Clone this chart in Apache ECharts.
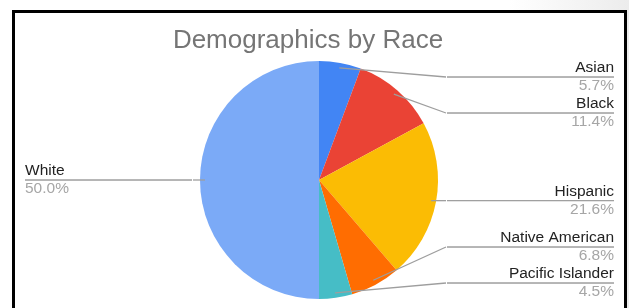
<!DOCTYPE html>
<html>
<head>
<meta charset="utf-8">
<script src="https://cdn.jsdelivr.net/npm/echarts@6/dist/echarts.min.js"></script>
<style>
  html, body { margin: 0; padding: 0; background: #fff; }
  #wrap { position: relative; width: 629px; height: 308px; overflow: hidden;
    background: linear-gradient(to left, #ececec 0px, #ffffff 120px); }
  #charts { position: absolute; left: 0; top: 0; width: 629px; height: 308px; }
  #inner { position: absolute; left: 15px; top: 13px; width: 609px; height: 300px; background: #fff; }
  #frame { position: absolute; left: 12px; top: 10px; width: 609px; height: 320px;
    border: 3px solid #000; pointer-events: none; }
</style>
</head>
<body>
<div id="wrap">
  <div id="inner"></div>
  <div id="charts"></div>
  <div id="frame"></div>
</div>
<script>
const categories = ["Asian", "Black", "Hispanic", "Native American", "Pacific Islander", "White"];
const shares = [5.7, 11.4, 21.6, 6.8, 4.5, 50.0];
const colors = ["#4285f4", "#ea4335", "#fbbc04", "#ff6d01", "#46bdc6", "#7baaf7"];
// labels are laid out in groups, so crowding at the top does not push the others
const labelGroups = [
  ["Asian", "Black"],
  ["Hispanic", "White"],
  ["Native American", "Pacific Islander"],
];

let charts = echarts.init(document.getElementById("charts"));

const pieBox = { left: 25, right: 15, top: 59, bottom: 7, center: [294, 121], startAngle: 90 };

const labelSeries = labelGroups.map((group) => ({
  type: "pie",
  ...pieBox,
  z: 3,
  radius: 114,
  silent: true,
  itemStyle: { color: "rgba(0,0,0,0)", borderWidth: 0 },
  label: {
    position: "outside",
    alignTo: "edge",
    edgeDistance: 0,
    distanceToLabelLine: 0,
    width: 167,
    formatter: "{name|{b}}\n{hr|}\n{pct|{c}%}",
    rich: {
      name: { fontFamily: "Liberation Sans", fontSize: 15.5, lineHeight: 18, color: "#222" },
      hr: { width: "100%", height: 0, lineHeight: 0, borderWidth: 1, borderColor: "#9e9e9e" },
      pct: { fontFamily: "Liberation Sans", fontSize: 15.5, lineHeight: 18, color: "#a6a6a6" },
    },
  },
  labelLine: {
    length: 0,
    length2: 0,
    lineStyle: { color: "#9e9e9e", width: 1.3 },
  },
  // straight leader from the slice to the start of the label rule
  labelLayout: (params) => {
    const pts = params.labelLinePoints;
    if (!pts) return {};
    return { labelLinePoints: [pts[0], pts[2], pts[2]] };
  },
  data: categories.map((name, i) => {
    const on = group.indexOf(name) >= 0;
    return {
      name: name,
      value: shares[i].toFixed(1),
      label: { show: on },
      labelLine: { show: on },
    };
  }),
}));

const option = {
  backgroundColor: "transparent",
  animation: false,
  title: {
    text: "Demographics by Race",
    left: 303,
    textAlign: "center",
    top: 23,
    textStyle: {
      fontFamily: "Liberation Sans",
      fontSize: 26,
      fontWeight: "normal",
      color: "#757575",
    },
  },
  series: [
    {
      type: "pie",
      ...pieBox,
      radius: 119,
      silent: true,
      label: { show: false },
      labelLine: { show: false },
      data: categories.map((name, i) => ({
        name: name,
        value: shares[i],
        itemStyle: { color: colors[i] },
      })),
    },
  ].concat(labelSeries),
};

charts.setOption(option);
</script>
</body>
</html>
